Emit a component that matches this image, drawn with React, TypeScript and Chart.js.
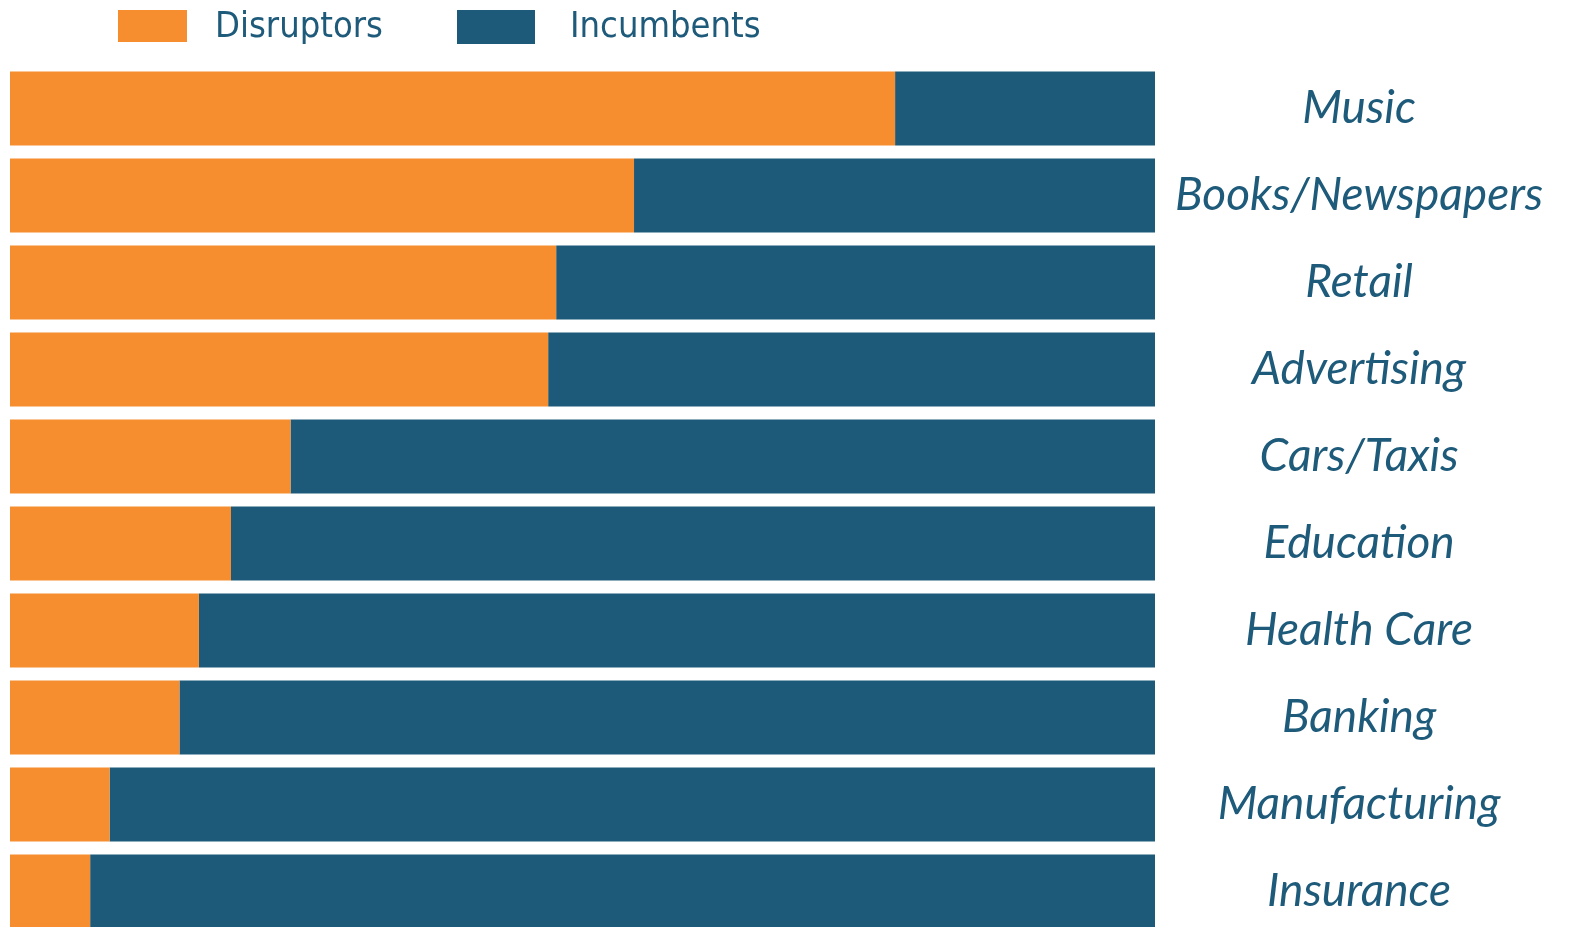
import React, { useEffect, useRef } from "react";
import { Chart, registerables } from "chart.js";

Chart.register(...registerables);

const categories: string[] = [
  "Music",
  "Books/Newspapers",
  "Retail",
  "Advertising",
  "Cars/Taxis",
  "Education",
  "Health Care",
  "Banking",
  "Manufacturing",
  "Insurance",
];

const disruptors: number[] = [77.3, 54.5, 47.7, 47.0, 24.5, 19.3, 16.5, 14.8, 8.7, 7.0];
const incumbents: number[] = [22.7, 45.5, 52.3, 53.0, 75.5, 80.7, 83.5, 85.2, 91.3, 93.0];

const seriesNames: string[] = ["Disruptors", "Incumbents"];

const ORANGE = "#F68D2E";
const BLUE = "#1D5A7A";
const TEXT = "#1E5A7A";

const legendPlugin = {
  id: "customLegend",
  afterDraw(chart: any) {
    const ctx = chart.ctx;
    const ds = chart.data.datasets;
    const items = [
      { box: [118, 10, 69, 32], textX: 215 },
      { box: [457, 10, 78, 34], textX: 570 },
    ];
    ctx.save();
    ctx.font = '36px "DejaVu Sans Condensed", "Liberation Sans Narrow", "DejaVu Sans", sans-serif';
    ctx.textBaseline = "middle";
    ctx.textAlign = "left";
    items.forEach((it, i) => {
      const d = ds[i];
      if (!d) return;
      ctx.fillStyle = d.backgroundColor;
      ctx.fillRect(it.box[0], it.box[1], it.box[2], it.box[3]);
      ctx.fillStyle = TEXT;
      ctx.fillText(d.label, it.textX, 28);
    });
    ctx.restore();
  },
};

export default function App() {
  const ref = useRef<HTMLCanvasElement | null>(null);

  useEffect(() => {
    if (!ref.current) return;
    const chart = new Chart(ref.current, {
      type: "bar",
      data: {
        labels: categories,
        datasets: [
          {
            label: seriesNames[0],
            data: disruptors,
            backgroundColor: ORANGE,
            borderWidth: 0,
            categoryPercentage: 1,
            barPercentage: 0.85,
          },
          {
            label: seriesNames[1],
            data: incumbents,
            backgroundColor: BLUE,
            borderWidth: 0,
            categoryPercentage: 1,
            barPercentage: 0.85,
          },
        ],
      },
      options: {
        indexAxis: "y",
        animation: false,
        responsive: false,
        maintainAspectRatio: false,
        layout: { padding: { top: 65, bottom: 60, left: 10, right: 0 } },
        plugins: {
          legend: { display: false },
          tooltip: { enabled: false },
        },
        scales: {
          x: {
            stacked: true,
            min: 0,
            max: 100,
            display: false,
          },
          y: {
            stacked: true,
            position: "right",
            grid: { display: false, drawTicks: false },
            border: { display: false },
            afterFit: (scale: any) => {
              scale.width = 418;
            },
            ticks: {
              crossAlign: "center",
              padding: 20,
              color: TEXT,
              font: { family: "Lato, 'Open Sans', sans-serif", size: 46, style: "italic" },
            },
          },
        },
      },
      plugins: [legendPlugin],
    });
    return () => chart.destroy();
  }, []);

  return (
    <div
      style={{
        position: "fixed",
        left: 0,
        top: 0,
        width: 1573,
        height: 927,
        overflow: "hidden",
        background: "#ffffff",
      }}
    >
      <canvas ref={ref} width={1573} height={995} style={{ display: "block" }} />
    </div>
  );
}
